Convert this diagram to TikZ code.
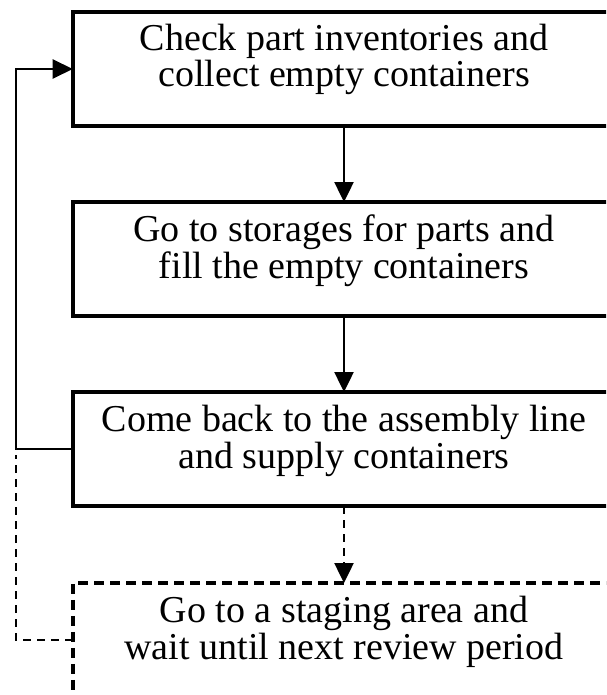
\documentclass[tikz,border=0pt]{standalone}
\usepackage{fontspec}
\setmainfont{Liberation Serif}
\usetikzlibrary{arrows.meta,calc}
\tikzset{
  stepbox/.style={draw, line width=3.6pt, minimum width=542.6pt, minimum height=114pt,
    inner sep=0pt, outer sep=0pt},
  waitbox/.style={stepbox, dash pattern=on 10pt off 6pt},
  boxtext/.style={font=\fontsize{38}{38}\selectfont, inner sep=0pt, outer sep=0pt, anchor=base},
  flow/.style={line width=2.5pt, -{Triangle[length=20pt,width=19pt]}},
  flowdash/.style={flow, dash pattern=on 8pt off 6pt},
  loopdash/.style={line width=2.5pt, dash pattern=on 8pt off 6pt},
}
\begin{document}
\begin{tikzpicture}[x=1pt,y=-1pt]
  \useasboundingbox (0,0) rectangle (606,695);
  \clip (0,0) rectangle (606,695);

  % process steps
  \node[stepbox] (b1) at (344,69) {};
  \node[stepbox] (b2) at (344,259) {};
  \node[stepbox] (b3) at (344,449) {};
  \node[waitbox] (b4) at (344,640) {};

  \node[boxtext] (t1a) at (344,51)  {Check part inventories and};
  \node[boxtext] (t1b) at (344,87)  {collect empty containers};
  \node[boxtext] (t2a) at (344,241) {Go to storages for parts and};
  \node[boxtext] (t2b) at (344,278) {fill the empty containers};
  \node[boxtext] (t3a) at (344,431) {Come back to the assembly line};
  \node[boxtext] (t3b) at (344,468) {and supply containers};
  \node[boxtext] (t4a) at (344,622) {Go to a staging area and};
  \node[boxtext] (t4b) at (344,659) {wait until next review period};

  % forward flow
  \draw[flow] (b1.south) -- (b2.north);
  \draw[flow] (b2.south) -- (b3.north);
  \draw[flowdash] (b3.south) -- (b4.north);

  % return loops
  \coordinate (loopA) at (16,449);
  \coordinate (loopB) at (16,69);
  \coordinate (loopC) at (16,640);
  \coordinate (loopD) at (16,455);
  \draw[flow] (b3.west) -- (loopA) -- (loopB) -- (b1.west);
  \draw[loopdash] (b4.west) -- (loopC) -- (loopD);
\end{tikzpicture}
\end{document}
